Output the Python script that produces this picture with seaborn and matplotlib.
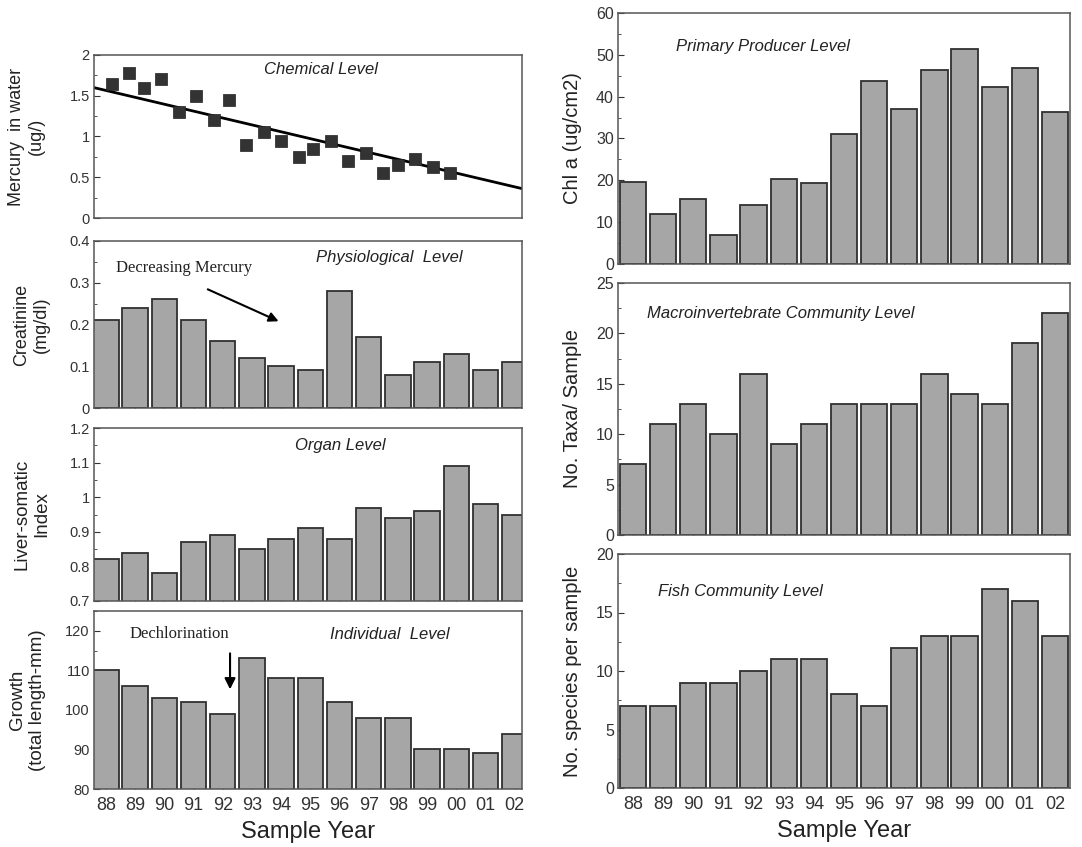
import numpy as np
import pandas as pd
import matplotlib
matplotlib.use("Agg")
import matplotlib.pyplot as plt
from matplotlib.ticker import AutoMinorLocator, MultipleLocator
import seaborn as sns

sns.set_style("ticks")
plt.rcParams["font.family"] = ["Liberation Sans", "DejaVu Sans"]

# ================================
# DATA
# ================================

years = ["88", "89", "90", "91", "92", "93", "94", "95",
         "96", "97", "98", "99", "00", "01", "02"]

# chemical level: sample times as offsets from 1988 (year slots)
mercury_time = [0.2, 0.8, 1.3, 1.9, 2.5, 3.1, 3.7, 4.2, 4.8, 5.4, 6.0,
                6.6, 7.1, 7.7, 8.3, 8.9, 9.5, 10.0, 10.6, 11.2, 11.8]
mercury_water = [1.65, 1.78, 1.60, 1.70, 1.30, 1.50, 1.20, 1.45, 0.90, 1.05, 0.95,
                 0.75, 0.85, 0.95, 0.70, 0.80, 0.55, 0.65, 0.73, 0.62, 0.55]
trend_intercept = 1.565
trend_slope = -0.0845

creatinine = [0.21, 0.24, 0.26, 0.21, 0.16, 0.12, 0.10, 0.09,
              0.28, 0.17, 0.08, 0.11, 0.13, 0.09, 0.11]
liver_index = [0.82, 0.84, 0.78, 0.87, 0.89, 0.85, 0.88, 0.91,
               0.88, 0.97, 0.94, 0.96, 1.09, 0.98, 0.95]
growth = [110, 106, 103, 102, 99, 113, 108, 108, 102, 98, 98, 90, 90, 89, 94]

chl_a = [19.5, 12.0, 15.5, 7.0, 14.0, 20.3, 19.3, 31.0,
         43.8, 37.0, 46.3, 51.3, 42.2, 46.9, 36.4]
taxa = [7, 11, 13, 10, 16, 9, 11, 13, 13, 13, 16, 14, 13, 19, 22]
fish_species = [7, 7, 9, 9, 10, 11, 11, 8, 7, 12, 13, 13, 17, 16, 13]

# ================================
# FIGURE
# ================================

W, H = 1082, 847
fig = plt.figure(figsize=(W / 100, H / 100), dpi=100)


def px_axes(left, top, right, bottom):
    return fig.add_axes([left / W, 1 - bottom / H, (right - left) / W, (bottom - top) / H])


BAR = "#a6a6a6"
EDGE = "#303030"
FRAME = "#555555"


def style(ax, ylim, step, ylabel, tick_size, label_size, xlim, pad, bottom_labels=False):
    ax.set_ylim(*ylim)
    ax.set_xlim(*xlim)
    ax.yaxis.set_major_locator(MultipleLocator(step))
    ax.yaxis.set_minor_locator(AutoMinorLocator(2))
    ax.tick_params(axis="both", which="both", direction="in", colors="#333333")
    ax.tick_params(axis="y", which="major", length=4, labelsize=tick_size, pad=3)
    ax.tick_params(axis="y", which="minor", length=2.5)
    ax.tick_params(axis="x", which="major", length=4, labelsize=13, pad=6)
    ax.yaxis.set_major_formatter(plt.FuncFormatter(lambda v, p: f"{v:g}"))
    for s in ax.spines.values():
        s.set_visible(True)
        s.set_color(FRAME)
        s.set_linewidth(1.1)
    ax.set_ylabel(ylabel, fontsize=label_size, color="#222222", labelpad=pad)
    if bottom_labels:
        ax.set_xlabel("Sample Year", fontsize=17, color="#222222", labelpad=5)
    else:
        ax.set_xlabel("")
        ax.set_xticklabels([])


def bars(ax, values):
    df = pd.DataFrame({"year": years, "value": values})
    sns.barplot(data=df, x="year", y="value", ax=ax, color=BAR, saturation=1,
                edgecolor=EDGE, linewidth=1.3, width=0.87)


LEFT_X = (-0.41, 14.25)
RIGHT_X = (-0.5, 14.5)
title_kw = dict(fontsize=12, style="italic", color="#222222", ha="center", va="center")
note_kw = dict(fontsize=12, family=["Liberation Serif", "DejaVu Serif"],
               color="#222222", ha="center", va="center")

# --- Chemical level ---
ax1 = px_axes(94, 55, 522, 218)
sns.scatterplot(x=mercury_time, y=mercury_water, ax=ax1, marker="s", s=80,
                color="#333333", edgecolor="#222222", linewidth=0.5, zorder=3)
ax1.axline((0, trend_intercept), slope=trend_slope, color="black", linewidth=2)
style(ax1, (0, 2), 0.5, "Mercury  in water\n(ug/)", 10.5, 13, LEFT_X, 18)
ax1.set_xticks([])
ax1.text(0.53, 0.91, "Chemical Level", transform=ax1.transAxes, **title_kw)

# --- Physiological level ---
ax2 = px_axes(94, 241, 522, 408)
bars(ax2, creatinine)
style(ax2, (0, 0.4), 0.1, "Creatinine\n(mg/dl)", 10.5, 13, LEFT_X, 14)
ax2.text(0.69, 0.9, "Physiological  Level", transform=ax2.transAxes, **title_kw)
ax2.text(0.21, 0.84, "Decreasing Mercury", transform=ax2.transAxes, **note_kw)
ax2.annotate("", xy=(6.0, 0.205), xytext=(3.4, 0.287),
             arrowprops=dict(arrowstyle="-|>", color="black", lw=1.5, mutation_scale=14))

# --- Organ level ---
ax3 = px_axes(94, 428, 522, 601)
bars(ax3, liver_index)
style(ax3, (0.7, 1.2), 0.1, "Liver-somatic\nIndex", 10.5, 13.5, LEFT_X, 14)
ax3.text(0.575, 0.9, "Organ Level", transform=ax3.transAxes, **title_kw)

# --- Individual level ---
ax4 = px_axes(94, 611, 522, 789)
bars(ax4, growth)
style(ax4, (80, 125), 10, "Growth\n(total length-mm)", 10.5, 13.5, LEFT_X, 14,
      bottom_labels=True)
ax4.text(0.69, 0.87, "Individual  Level", transform=ax4.transAxes, **title_kw)
ax4.text(0.2, 0.87, "Dechlorination", transform=ax4.transAxes, **note_kw)
ax4.annotate("", xy=(4.25, 104.5), xytext=(4.25, 115),
             arrowprops=dict(arrowstyle="-|>", color="black", lw=1.5, mutation_scale=16))

# --- Primary producer level ---
ax5 = px_axes(618, 13, 1070, 264)
bars(ax5, chl_a)
style(ax5, (0, 60), 10, "Chl a (ug/cm2)", 11.5, 14.5, RIGHT_X, 10)
ax5.text(0.32, 0.865, "Primary Producer Level", transform=ax5.transAxes,
         **{**title_kw, "fontsize": 12})

# --- Macroinvertebrate community level ---
ax6 = px_axes(618, 283, 1070, 535)
bars(ax6, taxa)
style(ax6, (0, 25), 5, "No. Taxa/ Sample", 11.5, 14.5, RIGHT_X, 10)
ax6.text(0.36, 0.88, "Macroinvertebrate Community Level", transform=ax6.transAxes,
         **{**title_kw, "fontsize": 12})

# --- Fish community level ---
ax7 = px_axes(618, 554, 1070, 788)
bars(ax7, fish_species)
style(ax7, (0, 20), 5, "No. species per sample", 11.5, 14.5, RIGHT_X, 10,
      bottom_labels=True)
ax7.text(0.27, 0.84, "Fish Community Level", transform=ax7.transAxes,
         **{**title_kw, "fontsize": 12})

fig.savefig("out.png", dpi=100, facecolor="white")
